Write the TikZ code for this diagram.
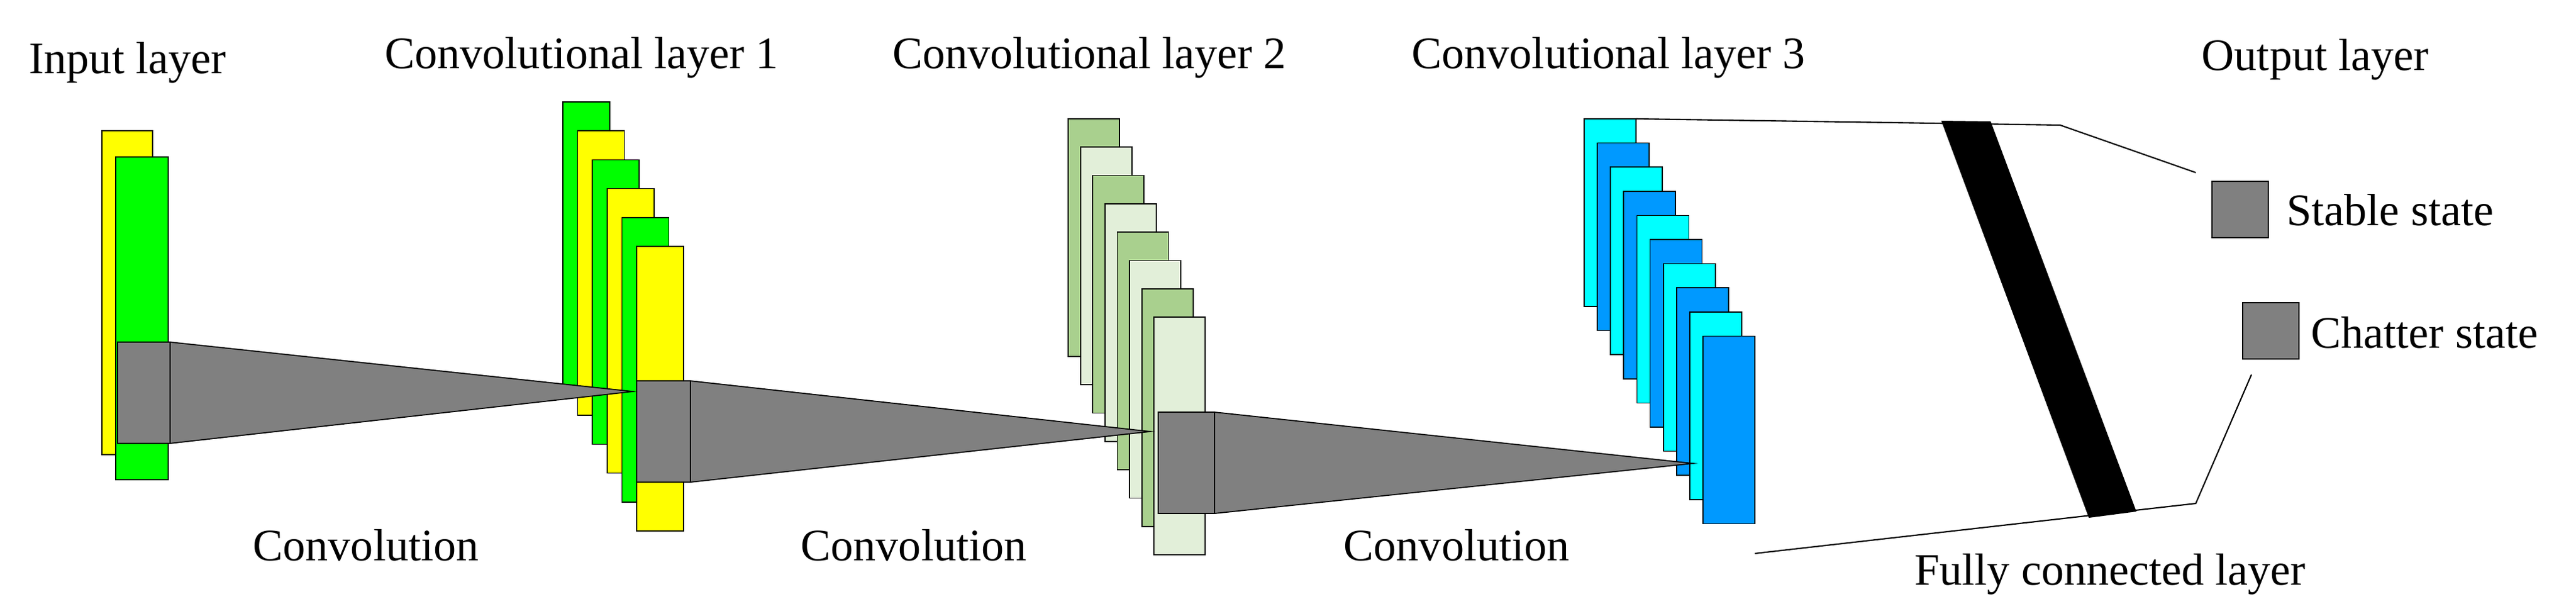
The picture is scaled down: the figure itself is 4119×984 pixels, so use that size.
\documentclass[tikz,border=0pt]{standalone}
\usepackage{fontspec}
\setmainfont{Liberation Serif}
\begin{document}
\begin{tikzpicture}[x=0.01cm,y=-0.01cm,
  lbl/.style={font=\fontsize{20.5}{24}\selectfont, inner sep=0pt},
  fm/.style={draw=black, line width=0.5pt},
  gr/.style={fm, fill=gray!100!white, fill=black!50},
  cA/.style={fm, fill=green!100!black, fill={rgb,255:red,0;green,255;blue,0}},
  cB/.style={fm, fill={rgb,255:red,255;green,255;blue,0}},
  dA/.style={fm, fill={rgb,255:red,169;green,208;blue,142}},
  dB/.style={fm, fill={rgb,255:red,226;green,239;blue,217}},
  eA/.style={fm, fill={rgb,255:red,0;green,255;blue,255}},
  eB/.style={fm, fill={rgb,255:red,0;green,153;blue,255}}]
\useasboundingbox (0,0) rectangle (4119,984);
% input layer
\draw[cB] (163,209) rectangle (244,727);
\draw[cA] (185,251) rectangle (269,767);
\draw[gr] (188,547) rectangle (272,709);
\coordinate (s0t) at (272,547); \coordinate (s0b) at (272,709);
% conv layer 1
\foreach \i in {0,...,5}{
  \pgfmathtruncatemacro{\m}{mod(\i,2)}
  \ifnum\m=0 \def\st{cA}\else\def\st{cB}\fi
  \draw[\st] ({900+23.6*\i},{163+46.2*\i}) rectangle ({975+23.6*\i},{618+46.2*\i});
}
\coordinate (a1) at (1012,626);
\fill[black!50, draw=black, line width=0.5pt] (s0t) -- (a1) -- (s0b) -- cycle;
\draw[gr] (1018,609) rectangle (1104,771);
\coordinate (s1t) at (1104,609); \coordinate (s1b) at (1104,771);
% conv layer 2
\foreach \i in {0,...,7}{
  \pgfmathtruncatemacro{\m}{mod(\i,2)}
  \ifnum\m=0 \def\st{dA}\else\def\st{dB}\fi
  \draw[\st] ({1708+19.6*\i},{190+45.3*\i}) rectangle ({1790+19.6*\i},{570+45.3*\i});
}
\coordinate (a2) at (1839,690);
\fill[black!50, draw=black, line width=0.5pt] (s1t) -- (a2) -- (s1b) -- cycle;
\draw[gr] (1852,659) rectangle (1942,821);
\coordinate (s2t) at (1942,659); \coordinate (s2b) at (1942,821);
% conv layer 3
\foreach \i in {0,...,9}{
  \pgfmathtruncatemacro{\m}{mod(\i,2)}
  \ifnum\m=0 \def\st{eA}\else\def\st{eB}\fi
  \draw[\st] ({2533+21.1*\i},{190+38.6*\i}) rectangle ({2616+21.1*\i},{490+38.6*\i});
}
\coordinate (a3) at (2707,741);
\fill[black!50, draw=black, line width=0.5pt] (s2t) -- (a3) -- (s2b) -- cycle;
% fully connected
\coordinate (t0) at (2616,190); \coordinate (t1) at (3294,200); \coordinate (t2) at (3511,276);
\coordinate (b0) at (2806,885); \coordinate (b1) at (3511,805); \coordinate (b2) at (3600,599);
\draw[line width=0.6pt] (t0) -- (t1) -- (t2);
\draw[line width=0.6pt] (b0) -- (b1) -- (b2);
\fill[black] (3104,193) -- (3183,194) -- (3416,818) -- (3340,828) -- cycle;
% output
\node[gr, minimum width=0.9cm, minimum height=0.9cm, inner sep=0pt] (o1) at (3582,335) {};
\node[gr, minimum width=0.9cm, minimum height=0.9cm, inner sep=0pt] (o2) at (3631,529) {};
\node[lbl, anchor=west] (l1) at (3656,336) {Stable state};
\node[lbl, anchor=west] (l2) at (3695,532) {Chatter state};
% labels
\node[lbl] (n1) at (204,100) {Input layer};
\node[lbl] (n2) at (930,92) {Convolutional layer 1};
\node[lbl] (n3) at (1742,92) {Convolutional layer 2};
\node[lbl] (n4) at (2572,92) {Convolutional layer 3};
\node[lbl] (n5) at (3702,95) {Output layer};
\node[lbl] (c1) at (585,872) {Convolution};
\node[lbl] (c2) at (1461,872) {Convolution};
\node[lbl] (c3) at (2329,872) {Convolution};
\node[lbl] (fc) at (3374,918) {Fully connected layer};
\end{tikzpicture}
\end{document}
